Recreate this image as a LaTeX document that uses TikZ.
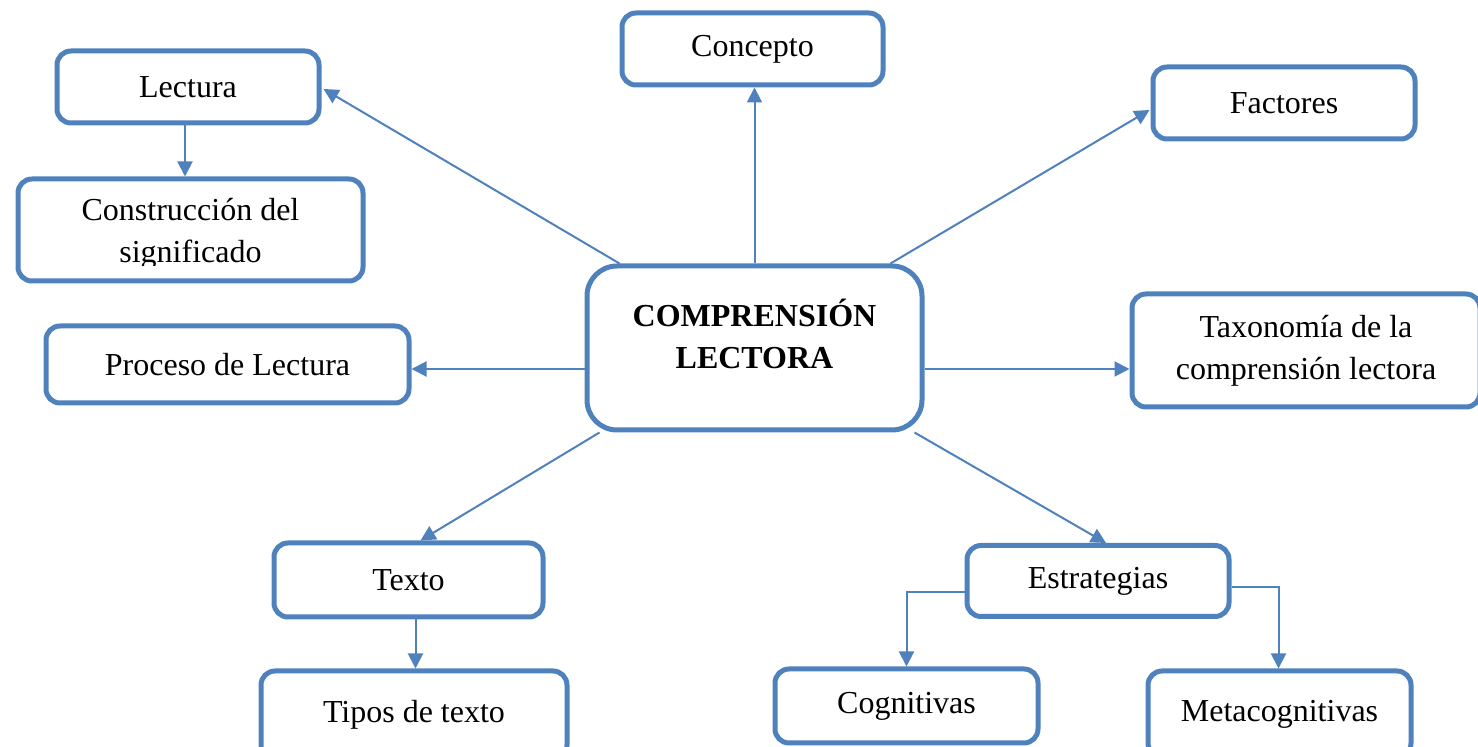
\documentclass[tikz,border=0pt]{standalone}
\usepackage{fontspec}
\setmainfont{Liberation Serif}
\usetikzlibrary{arrows.meta,calc}
\definecolor{wblue}{RGB}{79,129,189}
\tikzset{
  box/.style={draw=wblue, line width=2.5pt, rounded corners=7pt, fill=white, align=center, inner sep=0pt,
    font=\fontsize{16}{21}\selectfont},
  conn/.style={draw=wblue, line width=1pt, -{Triangle[length=7.5pt,width=7.5pt]}},
  txt/.style={align=center, inner sep=0pt, font=\fontsize{16}{21}\selectfont}
}
\begin{document}
\begin{tikzpicture}[x=0.5pt,y=-0.5pt]
\useasboundingbox (0,0) rectangle (1478,747);
% nodes
\node[box, minimum width=131pt, minimum height=36pt] (lect) at (188,87) {Lectura};
\node[box, minimum width=172.5pt, minimum height=51pt] (cons) at (190.5,230) {};
\begin{scope}
  \clip (0,180) rectangle (1478,266);
  \node[txt] (constxt) at (190.5,234) {Construcción del\\significado};
\end{scope}
\node[box, minimum width=130.5pt, minimum height=36pt] (conc) at (752.5,49) {Concepto};
\node[box, minimum width=131pt, minimum height=36pt] (fact) at (1284,103) {Factores};
\node[box, rounded corners=15pt, minimum width=167.5pt, minimum height=82pt,
      label={[txt, font=\fontsize{16}{21}\selectfont\bfseries, yshift=7pt]center:{COMPRENSIÓN\\LECTORA}}] (comp) at (754.5,348) {};
\node[box, minimum width=181.5pt, minimum height=38.5pt] (proc) at (227.5,364.5) {Proceso de Lectura};
\node[box, minimum width=174pt, minimum height=56.5pt] (tax) at (1306,350.5) {Taxonomía de la\\comprensión lectora};
\node[box, minimum width=134.5pt, minimum height=37pt] (texto) at (408.5,580) {Texto};
\node[box, minimum width=153pt, minimum height=44pt] (tipos) at (414,715) {Tipos de texto};
\node[box, minimum width=131pt, minimum height=35.5pt] (estr) at (1098,581) {Estrategias};
\node[box, minimum width=131.5pt, minimum height=37pt] (cogn) at (906.5,706) {Cognitivas};
\node[box, minimum width=131.5pt, minimum height=43pt] (meta) at (1279.5,714) {Metacognitivas};
% connectors
\draw[conn] ($(comp.north west)+(35,0)$) -- ($(lect.east)+(2,2)$);
\draw[conn] (comp.north) -- (comp.north |- conc.south);
\draw[conn] ($(comp.north east)+(-34,0)$) -- ($(fact.west)+(-1,7)$);
\draw[conn] ($(comp.west)+(0,21)$) coordinate (pw) -- (pw -| proc.east);
\draw[conn] ($(comp.east)+(0,21)$) coordinate (pe) -- (pe -| tax.west);
\draw[conn] ($(comp.south west)+(15,0)$) -- ($(texto.north)+(12,0)$);
\draw[conn] ($(comp.south east)+(-10,0)$) -- ($(estr.north)+(8,0)$);
\draw[conn] ($(lect.south)+(-3,0)$) coordinate (ls) -- (ls |- cons.north);
\draw[conn] ($(texto.south)+(7,0)$) coordinate (ts) -- (ts |- tipos.north);
\draw[conn] ($(estr.west)+(0,11)$) -| (cogn.north);
\draw[conn] ($(estr.east)+(0,6)$) -| ($(meta.north)+(-1,0)$);
\end{tikzpicture}
\end{document}
